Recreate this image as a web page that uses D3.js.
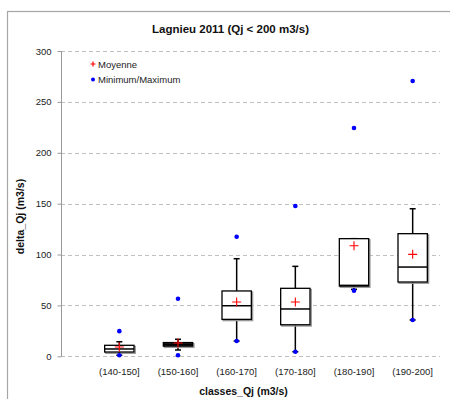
<!DOCTYPE html>
<html>
<head>
<meta charset="utf-8">
<script src="https://cdn.jsdelivr.net/npm/d3@7"></script>
<style>
  body { margin: 0; background: #fff; }
  text { font-family: "Liberation Sans Narrow", "Liberation Sans", Arial, sans-serif; }
</style>
</head>
<body>
<div id="chart"></div>
<script>
// data
var classes = ["(140-150]", "(150-160]", "(160-170]", "(170-180]", "(180-190]", "(190-200]"];
var q1 = [4.2, 10, 36.3, 31, 69, 73];
var median = [7.2, 11.5, 49.7, 46.5, 69.7, 87.7];
var q3 = [10.8, 13.5, 64.2, 66.8, 115.6, 120.5];
var whiskLow = [1, 6.2, 15, 4.5, 65.8, 35.7];
var whiskHigh = [14.3, 16.7, 95.9, 88.4, 115.6, 145];
var mean = [9.1, 13, 53.4, 53.4, 108.7, 100.2];
var minimum = [1, 1, 15, 4.5, 64.5, 35.7];
var maximum = [24.7, 56.6, 117.5, 147.7, 224.4, 270.5];
var yTicks = [0, 50, 100, 150, 200, 250, 300];

var W = 450, H = 399;
var plot = {left: 61, right: 440, top: 51, bottom: 356.3};

var svg = d3.select("#chart").append("svg")
  .attr("width", W).attr("height", H);

// outer frame of the chart
svg.append("rect")
  .attr("x", 7.5).attr("y", 11.5)
  .attr("width", 460).attr("height", 400)
  .attr("fill", "none").attr("stroke", "#a6a6a6").attr("stroke-width", 1.2);

var x = d3.scaleBand().domain(classes).range([90, 442]).paddingInner(0);
var y = d3.scaleLinear().domain([0, 300]).range([plot.bottom, plot.top]);
var bw = x.bandwidth() * 0.5;

// gridlines
svg.append("g").selectAll("line")
  .data(yTicks).enter().append("line")
  .attr("x1", plot.left).attr("x2", plot.right)
  .attr("y1", d => Math.round(y(d)) + 0.5).attr("y2", d => Math.round(y(d)) + 0.5)
  .attr("stroke", "#c0c0c0").attr("stroke-dasharray", "4,3");

// y axis
var yAxis = d3.axisLeft(y).tickValues(yTicks).tickSize(4).tickPadding(6);
var gy = svg.append("g")
  .attr("transform", "translate(" + (plot.left + 0.5) + ",0)")
  .call(yAxis);
gy.select(".domain").attr("stroke", "#999").attr("d", "M0," + plot.top + "V" + plot.bottom);
gy.selectAll(".tick line").attr("stroke", "#999");
gy.selectAll("text").attr("font-size", 9.5).attr("fill", "#222")
  .style("font-family", "'Liberation Sans', Arial, sans-serif");

// x labels
svg.append("g").selectAll("text")
  .data(classes).enter().append("text")
  .attr("x", d => x(d) + x.bandwidth() / 2)
  .attr("y", 375)
  .attr("text-anchor", "middle")
  .attr("font-size", 9.5).attr("fill", "#222")
  .text(d => d);

// boxes
var boxes = svg.append("g").selectAll("g")
  .data(classes).enter().append("g")
  .attr("transform", d => "translate(" + (x(d) + x.bandwidth() / 2) + ",0)");

// whiskers
boxes.append("line")
  .attr("x1", 0).attr("x2", 0)
  .attr("y1", (d, i) => y(whiskHigh[i])).attr("y2", (d, i) => y(q3[i]))
  .attr("stroke", "#000").attr("stroke-width", 1.5);
boxes.append("line")
  .attr("x1", 0).attr("x2", 0)
  .attr("y1", (d, i) => y(q1[i])).attr("y2", (d, i) => y(whiskLow[i]))
  .attr("stroke", "#000").attr("stroke-width", 1.5);
boxes.append("line")
  .attr("x1", -3).attr("x2", 3)
  .attr("y1", (d, i) => y(whiskHigh[i])).attr("y2", (d, i) => y(whiskHigh[i]))
  .attr("stroke", "#000").attr("stroke-width", 1.5);
boxes.append("line")
  .attr("x1", -3).attr("x2", 3)
  .attr("y1", (d, i) => y(whiskLow[i])).attr("y2", (d, i) => y(whiskLow[i]))
  .attr("stroke", "#000").attr("stroke-width", 1.5);

// shadow then box
boxes.append("rect")
  .attr("x", -bw / 2 + 1.2)
  .attr("y", (d, i) => y(q3[i]) + 1.2)
  .attr("width", bw)
  .attr("height", (d, i) => y(q1[i]) - y(q3[i]))
  .attr("fill", "none").attr("stroke", "#9a9a9a").attr("stroke-width", 1.5);
boxes.append("rect")
  .attr("x", -bw / 2)
  .attr("y", (d, i) => y(q3[i]))
  .attr("width", bw)
  .attr("height", (d, i) => y(q1[i]) - y(q3[i]))
  .attr("fill", (d, i) => (y(q1[i]) - y(q3[i]) < 5 ? "#222" : "#fff"))
  .attr("stroke", "#000").attr("stroke-width", 1.3);
boxes.append("line")
  .attr("x1", -bw / 2).attr("x2", bw / 2)
  .attr("y1", (d, i) => y(median[i])).attr("y2", (d, i) => y(median[i]))
  .attr("stroke", "#000").attr("stroke-width", 1.5);

// min / max points
function dots(sel, val) {
  sel.append("circle")
    .attr("cx", 0)
    .attr("cy", (d, i) => y(val[i]))
    .attr("r", 2.3)
    .attr("fill", "#0000ff");
}
dots(boxes, minimum);
dots(boxes, maximum);

// mean
boxes.append("path")
  .attr("d", (d, i) => {
    var m = y(mean[i]);
    return "M-4.5," + m + "H4.5M0," + (m - 4.5) + "V" + (m + 4.5);
  })
  .attr("stroke", "#ff0000").attr("stroke-width", 1.1).attr("fill", "none");

// legend
var leg = svg.append("g").attr("transform", "translate(93,0)");
leg.append("path").attr("d", "M-2.5,64H2.5M0,61.5V66.5")
  .attr("stroke", "#ff0000").attr("stroke-width", 1.2);
leg.append("text").attr("x", 5).attr("y", 67.5)
  .attr("font-size", 9.5).attr("fill", "#222").text("Moyenne");
leg.append("circle").attr("cx", 0).attr("cy", 79.5).attr("r", 2)
  .attr("fill", "#0000ff");
leg.append("text").attr("x", 5).attr("y", 83)
  .attr("font-size", 9.5).attr("fill", "#222").text("Minimum/Maximum");

// titles
svg.append("text")
  .attr("x", 230.5).attr("y", 33)
  .attr("text-anchor", "middle").attr("font-size", 11.5).attr("font-weight", "bold")
  .attr("fill", "#111")
  .text("Lagnieu 2011 (Qj < 200 m3/s)");
svg.append("text")
  .attr("x", 243.5).attr("y", 395)
  .attr("text-anchor", "middle").attr("font-size", 10.5).attr("font-weight", "bold")
  .attr("fill", "#111")
  .text("classes_Qj (m3/s)");
svg.append("text")
  .attr("transform", "translate(23.5,216.5) rotate(-90)")
  .attr("text-anchor", "middle").attr("font-size", 10.5).attr("font-weight", "bold")
  .attr("fill", "#111")
  .text("delta_Qj (m3/s)");
</script>
</body>
</html>
